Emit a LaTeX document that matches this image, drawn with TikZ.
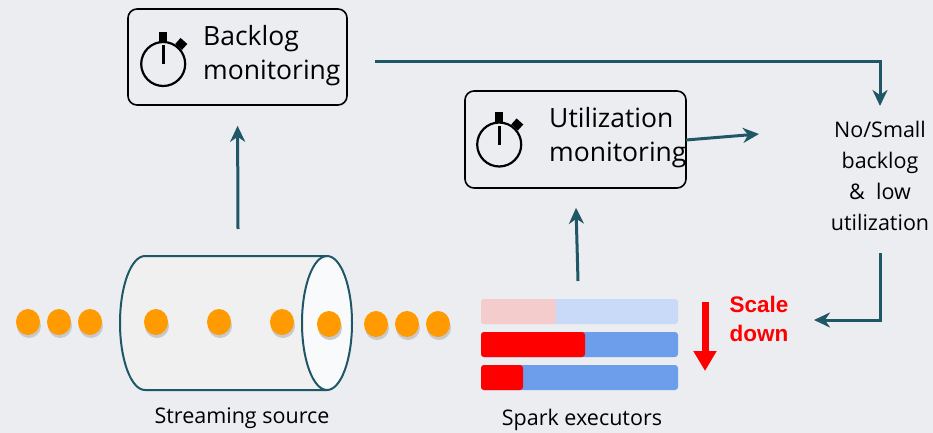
\documentclass[tikz,border=0pt]{standalone}
\usepackage{fontspec}
\setmainfont{Open Sans}
\newfontfamily\boldsans{Liberation Sans}
\usetikzlibrary{arrows.meta,positioning,calc}
\definecolor{bgcol}{HTML}{ECEDF1}
\definecolor{flowcol}{HTML}{1F5767}
\definecolor{dotcol}{HTML}{FF9A00}
\definecolor{usedcol}{HTML}{FF0000}
\definecolor{usedpale}{HTML}{F4CCCC}
\definecolor{freecol}{HTML}{6D9EEB}
\definecolor{freepale}{HTML}{C9DAF8}
\tikzstyle{monbox}=[rectangle, rounded corners=9pt, draw=black, line width=1.6pt, inner sep=0pt, anchor=center]
\tikzstyle{montext}=[anchor=west, align=left, inner sep=0pt, font=\fontsize{26.5}{34}\selectfont]
\tikzstyle{annot}=[align=center, inner sep=0pt, font=\fontsize{21.5}{31}\selectfont]
\tikzstyle{flow}=[draw=flowcol, line width=3pt, -{Stealth[length=16pt,width=15pt,inset=5pt]}]
\tikzstyle{msg}=[fill=dotcol]
\tikzstyle{msgshadow}=[fill=black!15!bgcol]
\newcommand{\stopwatch}[1]
{
  \draw[line width=2.2pt] (#1) circle (22pt);
  \draw[line width=2.6pt] (#1) -- ++(0,-19);
  \fill[shift={(#1)}] (-4,-32) rectangle (4,-22);
  \fill[shift={(#1)}, rotate=-42] (-4.5,-31) rectangle (4.5,-23);
}
\newcommand{\msgdot}[1]
{
  \fill[msgshadow] ($(#1)+(1,4)$) ellipse (12pt and 12pt);
  \fill[msg] (#1) ellipse (12pt and 13pt);
}

\begin{document}
\begin{tikzpicture}[x=1pt, y=-1pt]
	\fill[bgcol] (0,0) rectangle (933,433);

	% monitors
	\node[monbox, minimum width=219pt, minimum height=96pt](backlog) at (237.5,57){};
	\coordinate (backlogwatch) at ($(backlog.west)+(36,7)$);
	\stopwatch{backlogwatch}
	\node[montext](backlogtext) at (203,56){Backlog\\monitoring};

	\node[monbox, minimum width=221pt, minimum height=97pt](util) at (575.5,139.5){};
	\coordinate (utilwatch) at ($(util.west)+(35,5)$);
	\stopwatch{utilwatch}
	\node[montext](utiltext) at (549,138){Utilization\\monitoring};

	\node[annot](verdict) at (880,176){No/Small\\backlog\\\&\ \ low\\utilization};
	\node[annot](sourcetext) at (242,418){Streaming source};
	\node[annot](exectext) at (582,420){Spark executors};
	\node[annot, text=usedcol, font=\boldsans\bfseries\fontsize{22.5}{29}\selectfont](scaletext) at (759,319){Scale\\down};

	% streaming source
	\fill[black!6] (145,256) -- (327,256) -- (327,390) -- (145,390) arc (270:90:25pt and 67pt) -- cycle;
	\foreach \x in {28,59,90,156,219,282} {\msgdot{\x,322}}
	\fill[white!70!bgcol] (327,323) ellipse (25pt and 67pt);
	\draw[flowcol, line width=2pt] (327,256) -- (145,256) arc (90:270:25pt and 67pt) -- (327,390);
	\draw[flowcol, line width=2pt] (327,323) ellipse (25pt and 67pt);
	\foreach \x in {329,376,407,438} {\msgdot{\x,324}}

	% executors
	\fill[freepale, rounded corners=3pt] (481,299) rectangle (678,324);
	\fill[usedpale, rounded corners=3pt] (481,299) rectangle (556,324);
	\fill[freecol, rounded corners=3pt] (481,332) rectangle (678,357);
	\fill[usedcol, rounded corners=3pt] (481,332) rectangle (585,357);
	\fill[freecol, rounded corners=3pt] (481,365) rectangle (678,390);
	\fill[usedcol, rounded corners=3pt] (481,365) rectangle (523,390);

	\coordinate (downtop) at (705,302);
	\coordinate (downbot) at (705,371);
	\draw[usedcol, line width=7pt, -{Triangle[length=20pt,width=22pt]}] (downtop) -- (downbot);

	% flows
	\coordinate (srctop) at (238,229);
	\coordinate (exectop) at (578,281);
	\coordinate (backout) at (375,62);
	\coordinate (utilout) at (686,140);
	\coordinate (verdictin) at (759,134);
	\coordinate (verdictout) at (880,253);
	\coordinate (scalein) at (814,320);
	\draw[flow, shorten >=20pt] (srctop) -- (backlog.south);
	\draw[flow, shorten >=19pt] (exectop) -- (util.south);
	\draw[flow] (backout) -| (880,106);
	\draw[flow] (utilout) -- (verdictin);
	\draw[flow] (verdictout) |- (scalein);

\end{tikzpicture}
\end{document}
